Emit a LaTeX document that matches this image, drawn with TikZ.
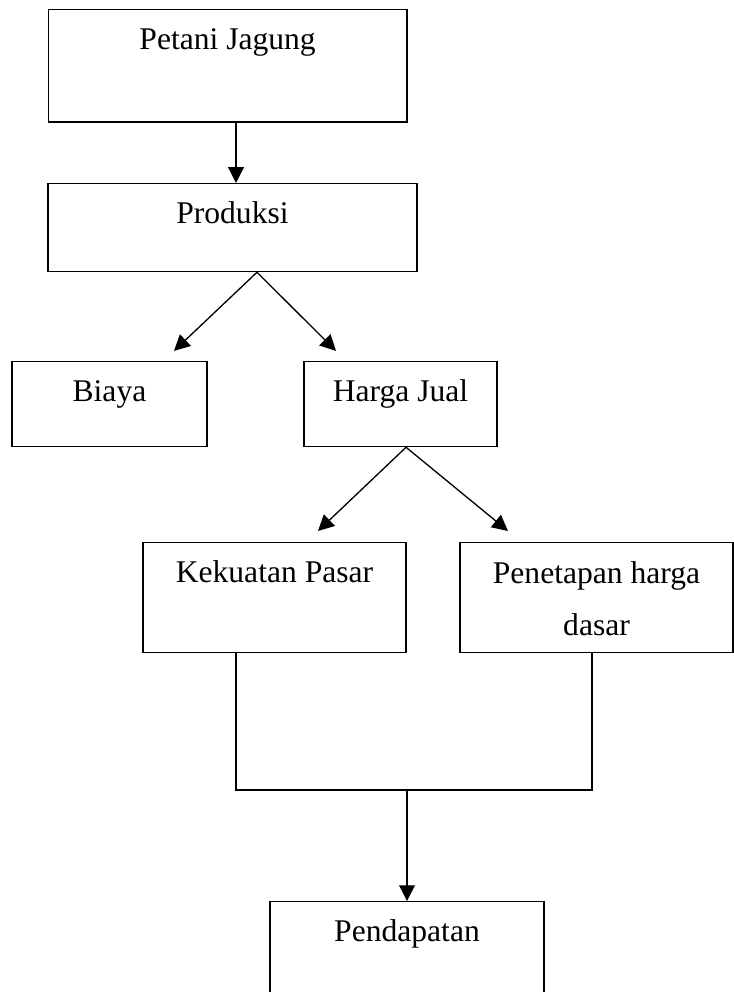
\documentclass[tikz,border=0pt]{standalone}
\usepackage{fontspec}
\setmainfont{Liberation Serif}
\usepackage{tikz}
\usetikzlibrary{arrows.meta, positioning, calc}

\begin{document}
\begin{tikzpicture}[
    box/.style={draw, line width=0.5pt, inner sep=0pt, anchor=north,
        font=\fontsize{12pt}{20pt}\selectfont, align=center, text height=0.535cm},
    arr/.style={-{Triangle[length=6pt, width=6pt]}, line width=0.5pt}
]
\useasboundingbox (0,0) rectangle (9.803,-13.249);

% Boxes
\node[box, minimum width=4.79cm, text depth=0.965cm] (petani) at (3.04,-0.12) {Petani Jagung};
\node[box, minimum width=4.93cm, text depth=0.64cm] (produksi) at (3.105,-2.444) {Produksi};
\node[box, minimum width=2.604cm, text depth=0.60cm] (biaya) at (1.462,-4.821) {Biaya};
\node[box, minimum width=2.578cm, text depth=0.60cm] (harga) at (5.349,-4.821) {Harga Jual};
\node[box, minimum width=3.513cm, text depth=0.934cm] (pasar) at (3.666,-7.239) {Kekuatan Pasar};
% two lines: baseline sits on the last one
\node[box, minimum width=3.646cm, text height=1.243cm, text depth=0.226cm] (dasar) at (7.967,-7.239) {Penetapan harga\\dasar};
\node[box, minimum width=3.66cm, text depth=1.2cm] (pendapatan) at (5.436,-12.034) {Pendapatan};

% Arrows
\draw[arr] ([xshift=0.047cm]produksi.north |- petani.south) -- ([xshift=0.047cm]produksi.north);
\coordinate (split1) at ([xshift=0.327cm]produksi.south);
\draw[arr] (split1) -- ([shift={(0.862,0.134)}]biaya.north);
\draw[arr] (split1) -- ([shift={(-0.861,0.134)}]harga.north);
\coordinate (split2) at ([xshift=0.074cm]harga.south);
\draw[arr] (split2) -- ([shift={(0.581,0.147)}]pasar.north);
\draw[arr] (split2) -- ([shift={(-1.182,0.147)}]dasar.north);

% Joining lines
\coordinate (join) at (pendapatan.north |- 0,-10.551);
\coordinate (pasarout) at ([xshift=-0.514cm]pasar.south);
\coordinate (dasarout) at ([xshift=-0.06cm]dasar.south);
\draw[line width=0.5pt] (pasarout) -- (pasarout |- join) -- (dasarout |- join) -- (dasarout);
\draw[arr] (join) -- (pendapatan.north);
\end{tikzpicture}
\end{document}
